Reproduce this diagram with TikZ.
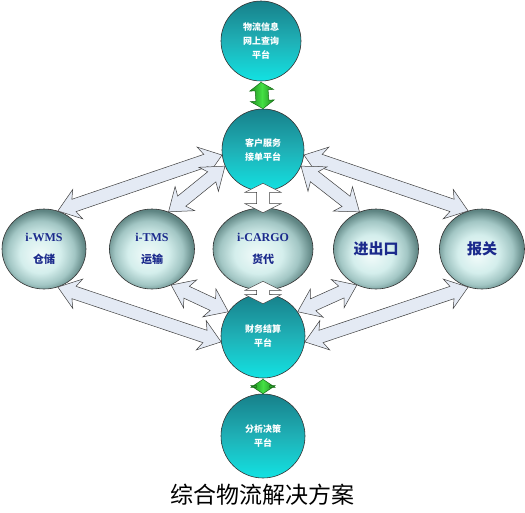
\documentclass[tikz,border=0pt]{standalone}
\usepackage{fontspec}
\setmainfont{Liberation Serif}
\newfontfamily\cjk{Noto Sans CJK SC}
\usetikzlibrary{calc,shapes.geometric}
\definecolor{navy}{HTML}{1B2A8C}
\definecolor{tealdark}{HTML}{17808A}
\definecolor{tealmid}{HTML}{1FB0B6}
\definecolor{teallight}{HTML}{12E2E2}
\definecolor{mA}{HTML}{F2FBFA}
\definecolor{mB}{HTML}{D4EEEC}
\definecolor{mC}{HTML}{A2C6C4}
\definecolor{mD}{HTML}{5E8482}
\pgfdeclareradialshading{modshade}{\pgfpoint{-3bp}{-4bp}}{color(0bp)=(mA); color(12bp)=(mB); color(20bp)=(mC); color(26bp)=(mD); color(50bp)=(mD)}
\definecolor{arrfill}{HTML}{E4EAF4}
\definecolor{grn}{HTML}{44E044}
\definecolor{grndark}{HTML}{1E8A1E}
% #1 from, #2 to, #3 shaft half width, #4 head half width, #5 head length, #6 style, #7 barb sweep
\newcommand\blk[7]{%
\path[#6] let \p1=(#1), \p2=(#2), \n1={atan2(\y2-\y1,\x2-\x1)} in
 (\p1) -- ($(\p1)+(\n1:#5+#7)+(\n1+90:#4)$) -- ($(\p1)+(\n1:#5)+(\n1+90:#3)$)
 -- ($(\p2)+(\n1+180:#5)+(\n1+90:#3)$) -- ($(\p2)+(\n1+180:#5+#7)+(\n1+90:#4)$)
 -- (\p2) -- ($(\p2)+(\n1+180:#5+#7)+(\n1-90:#4)$) -- ($(\p2)+(\n1+180:#5)+(\n1-90:#3)$)
 -- ($(\p1)+(\n1:#5)+(\n1-90:#3)$) -- ($(\p1)+(\n1:#5+#7)+(\n1-90:#4)$) -- cycle;}
\tikzset{
 ball/.style={circle, draw=black!80, line width=0.6pt, top color=tealdark, bottom color=teallight, middle color=tealmid,
   text=white, font=\cjk\bfseries\fontsize{9}{14}\selectfont, align=center, inner sep=0pt},
 mod/.style={ellipse, draw=black!80, line width=0.6pt, shading=modshade,
   text=navy, font=\bfseries\fontsize{12}{22}\selectfont, align=center, inner sep=0pt},
 blockarr/.style={fill=arrfill, draw=black!75, line width=0.5pt},
 smallarr/.style={fill=white, draw=black!75, line width=0.5pt},
 greenarr/.style={left color=grndark, right color=grndark, middle color=grn, draw=grndark!80!black, line width=0.5pt},
}
\begin{document}
\begin{tikzpicture}[x=1pt,y=-1pt]
\fill[white] (0,0) rectangle (525,512);
\useasboundingbox (0,0) rectangle (525,512);
% platforms
\node[ball, minimum width=80pt, minimum height=79pt] (web) at (261,41) {物流信息\\网上查询\\平台};
\node[ball, minimum width=82pt, minimum height=81pt] (client) at (263,150) {客户服务\\接单平台};
\node[ball, minimum width=84pt, minimum height=80pt] (fin) at (263,336) {财务结算\\平台};
\node[ball, minimum width=84pt, minimum height=77pt] (ana) at (263,436) {分析决策\\平台};
% modules
\node[mod, minimum width=84pt, minimum height=80pt] (wms) at (44,249) {i-WMS\\{\cjk\bfseries\fontsize{11}{11}\selectfont 仓储}};
\node[mod, minimum width=85pt, minimum height=80pt] (tms) at (152,249) {i-TMS\\{\cjk\bfseries\fontsize{11}{11}\selectfont 运输}};
\node[mod, minimum width=100pt, minimum height=82pt] (cargo) at (263,249) {i-CARGO\\{\cjk\bfseries\fontsize{11}{11}\selectfont 货代}};
\node[mod, minimum width=85pt, minimum height=80pt, font=\cjk\bfseries\fontsize{15}{15}\selectfont] (imex) at (376,249) {进出口};
\node[mod, minimum width=85pt, minimum height=80pt, font=\cjk\bfseries\fontsize{15}{15}\selectfont] (customs) at (482,249) {报关};
% block arrows
\blk{client.187}{wms.70}{6.5pt}{15.5pt}{17pt}{blockarr}{4pt}
\blk{client.203}{tms.66}{6.5pt}{15.5pt}{17pt}{blockarr}{4pt}
\blk{client.-7}{customs.110}{6.5pt}{15.5pt}{17pt}{blockarr}{4pt}
\blk{client.-23}{imex.114}{6.5pt}{15.5pt}{17pt}{blockarr}{4pt}
\blk{fin.188}{wms.-70}{6.5pt}{15.5pt}{17pt}{blockarr}{4pt}
\blk{fin.145}{tms.-62}{6.5pt}{15.5pt}{17pt}{blockarr}{4pt}
\blk{fin.-8}{customs.-110}{6.5pt}{15.5pt}{17pt}{blockarr}{4pt}
\blk{fin.35}{imex.-118}{6.5pt}{15.5pt}{17pt}{blockarr}{4pt}
% short vertical arrows
\blk{$(client.south)+(0,-8)$}{$(cargo.north)+(0,5)$}{6.5pt}{18pt}{9pt}{smallarr}{0pt}
\blk{$(cargo.south)+(0,-9)$}{$(fin.north)+(0,10)$}{6.5pt}{18pt}{9pt}{smallarr}{0pt}
% green arrows
\blk{$(web.south)+(0,1)$}{$(client.north)+(0,0)$}{6.5pt}{12pt}{8pt}{greenarr}{0pt}
\blk{$(fin.south)+(0,1)$}{$(ana.north)+(0,0)$}{6.5pt}{12pt}{8pt}{greenarr}{0pt}
% title
\node[font=\cjk\fontsize{23}{23}\selectfont, text=black] (title) at (262,495) {综合物流解决方案};
\end{tikzpicture}
\end{document}
